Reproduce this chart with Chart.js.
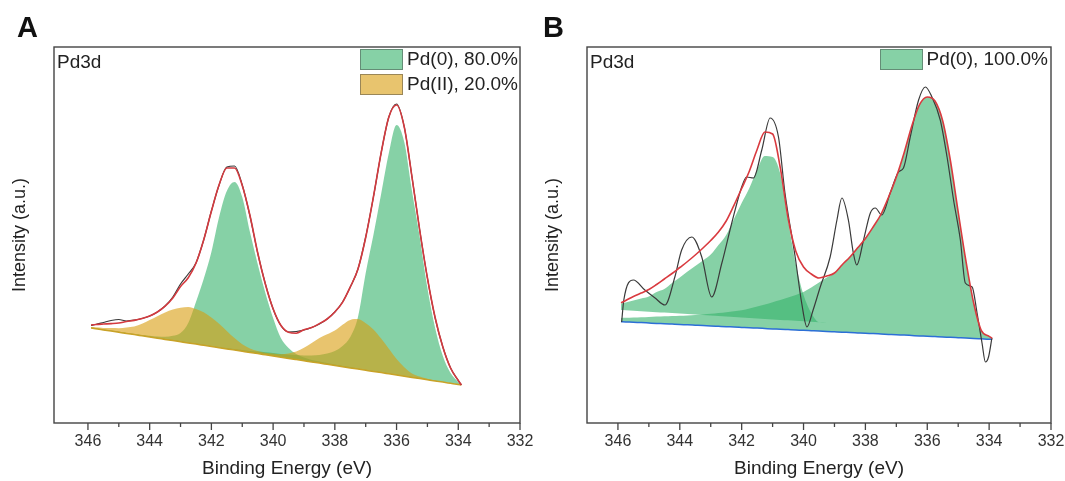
<!DOCTYPE html>
<html>
<head>
<meta charset="utf-8">
<script src="https://cdn.jsdelivr.net/npm/chart.js@4.4.1/dist/chart.umd.min.js"></script>
<style>
  html, body { margin: 0; padding: 0; background: #fff; }
  #wrap { position: relative; width: 1065px; height: 481px; overflow: hidden;
          font-family: "Liberation Sans", Arial, sans-serif; color: #222; }
  canvas { position: absolute; top: 0; }
  .tag { position: absolute; top: 13px; font-size: 29px; line-height: 1; font-weight: bold; color: #111; }
  .core { position: absolute; top: 52px; font-size: 19px; line-height: 1; }
  .legend { position: absolute; top: 48px; font-size: 19px; }
  .legend .row { display: flex; align-items: center; height: 22px; margin-bottom: 3px; }
  .legend .sw { width: 43px; height: 21px; border: 1px solid rgba(60,60,60,0.45); margin-right: 4px; box-sizing: border-box; }
  .legend .txt { line-height: 22px; white-space: nowrap; }
</style>
</head>
<body>
<div id="wrap">
  <canvas id="chartA" width="533" height="481" style="left:0"></canvas>
  <canvas id="chartB" width="532" height="481" style="left:533px"></canvas>
  <div class="tag" style="left:17px">A</div>
  <div class="tag" style="left:543px">B</div>
  <div class="core" style="left:57px">Pd3d</div>
  <div class="core" style="left:590px">Pd3d</div>
  <div class="legend" id="legendA" style="right:547px"></div>
  <div class="legend" id="legendB" style="right:17px"></div>
</div>
<script>
// binding energy grid (eV) for the fitted curves
const energy = [345.9, 345.75, 345.5, 345.25, 345, 344.75, 344.5, 344.25, 344, 343.75,
  343.5, 343.25, 343, 342.75, 342.5, 342.25, 342, 341.75, 341.5, 341.25,
  341, 340.75, 340.5, 340.25, 340, 339.75, 339.5, 339.25, 339, 338.75,
  338.5, 338.25, 338, 337.75, 337.5, 337.25, 337, 336.75, 336.5, 336.25,
  336, 335.75, 335.5, 335.25, 335, 334.75, 334.5, 334.25, 334, 333.9];

const tickValues = [346, 345, 344, 343, 342, 341, 340, 339, 338, 337, 336, 335, 334, 333, 332];

// ---- panel A ----
const rawA = [97.5, 98.5, 100.5, 102.5, 103.5, 102, 102.8, 104.5, 107, 111,
  117, 126, 139, 149, 160, 183, 212, 238, 256, 257,
  238, 207, 170, 139, 114, 97.5, 91, 91.5, 93, 95.5,
  99, 104, 111, 121, 136, 154, 186, 226, 270, 306,
  319, 296, 246, 193, 145, 105, 76, 55, 42.5, 38];
const envelopeA = [98, 98.5, 99, 99.4, 100, 101.5, 102.6, 104.5, 107, 111,
  116.8, 125, 136.5, 145.3, 159.7, 183, 211.7, 238.2, 255, 255,
  237.6, 207.5, 170.3, 138.8, 114.3, 97.8, 90.8, 89.8, 93.3, 95.4,
  99.4, 104, 111, 120.7, 136, 154, 185.5, 226, 270, 306,
  318, 296, 246, 193, 145, 105.5, 76, 55, 42.5, 38];
const baselineA = [95, 94.3, 93.1, 91.9, 90.7, 89.5, 88.4, 87.2, 86, 84.8,
  83.6, 82.4, 81.2, 80, 78.9, 77.7, 76.5, 75.3, 74.1, 72.9,
  71.7, 70.5, 69.4, 68.2, 67, 65.8, 64.6, 63.4, 62.2, 61,
  59.9, 58.7, 57.5, 56.3, 55.1, 53.9, 52.7, 51.5, 50.4, 49.2,
  48, 46.8, 45.6, 44.4, 43.2, 42, 40.9, 39.7, 38.5, 38];
const pd2A = [96, 95.8, 95.1, 94.9, 94.7, 95.5, 96.4, 99.2, 103, 106.8,
  110.6, 113.4, 115.2, 116, 113.9, 110.7, 105.5, 99.3, 92.1, 84.9,
  78.7, 74.5, 71.9, 70.2, 69.5, 68.8, 69.6, 71.4, 75.2, 80,
  84.9, 88.7, 92.5, 98.3, 103.1, 103.9, 99.7, 93.5, 84.4, 74.2,
  64, 55.8, 49.6, 46.4, 44.2, 42.5, 41.2, 39.9, 38.5, 38];
const pd0HighA = [95.2, 94.5, 93.4, 92.3, 91.2, 90.1, 89.1, 88.1, 87.2, 86.5,
  86.3, 87.2, 90, 100, 121, 144, 171, 206, 232, 241,
  226, 191, 159, 130, 105, 85, 75, 69, 65.5, 63,
  61.5, 60, 58.5, 57.2, 55.9, 54.6, 53.3, 52, 50.8, 49.6,
  48.4, 47.1, 45.9, 44.7, 43.4, 42.2, 41, 39.8, 38.6, 38];
const pd0LowA = [95.5, 94.8, 93.6, 92.4, 91.2, 90, 88.9, 87.7, 86.5, 85.3,
  84.1, 82.9, 81.7, 80.5, 79.4, 78.2, 77, 75.8, 74.9, 73.9,
  72.9, 72, 71.4, 70.7, 70, 69, 68.5, 68, 67.5, 67.5,
  68, 69.5, 72, 77, 86, 106, 150, 188, 229, 270,
  298, 281, 232, 186, 135, 95, 67, 50, 41, 38];
const legendA = ["Pd(0), 80.0%", "Pd(II), 20.0%"];

// ---- panel B ----
const rawEnergyB = [345.88, 345.81, 345.5, 345.13, 344.8, 344.48, 344.16, 343.94, 343.61, 343.29,
  342.97, 342.64, 342.32, 342.0, 341.84, 341.62, 341.35, 341.08, 340.81, 340.6,
  340.27, 340.06, 339.89, 339.69, 339.46, 339.14, 338.92, 338.76, 338.55, 338.39,
  338.28, 338.06, 337.84, 337.68, 337.47, 337.2, 336.93, 336.77, 336.55, 336.28,
  336.06, 335.85, 335.58, 335.36, 335.15, 334.93, 334.77, 334.55, 334.39, 334.23,
  334.12, 334.02, 333.91];
const rawB = [101, 123, 143, 133, 125, 118, 146, 173, 186, 166,
  126, 160, 200, 236, 246, 245, 273, 305, 286, 230,
  166, 120, 96, 113, 136, 166, 203, 225, 203, 170,
  158, 183, 210, 215, 208, 230, 251, 255, 286, 323,
  336, 326, 303, 266, 223, 183, 140, 136, 110, 80,
  61, 66, 85];
const envelopeB = [120.2, 122.5, 126.5, 130, 133.5, 138.5, 144, 149.5, 155.5, 161.5,
  168, 175, 182.5, 191, 202, 217.7, 234.5, 252, 273.5, 291,
  289, 255, 205, 171.8, 156, 149, 145, 147, 150, 158.3,
  166, 175.2, 184.5, 196, 208.5, 226, 246, 270, 297, 318.3,
  326, 322, 302, 262, 211, 162, 120, 92.3, 86.7, 84.7];
const baselineB = [101.3, 101.1, 100.7, 100.4, 100, 99.6, 99.3, 98.9, 98.5, 98.2,
  97.8, 97.4, 97.1, 96.7, 96.3, 96, 95.6, 95.2, 94.9, 94.5,
  94.1, 93.8, 93.4, 93, 92.7, 92.3, 91.9, 91.6, 91.2, 90.8,
  90.5, 90.1, 89.7, 89.4, 89, 88.6, 88.2, 87.9, 87.5, 87.1,
  86.8, 86.4, 86, 85.7, 85.3, 84.9, 84.6, 84.2, 83.8, 83.7];
const pd0HighB = [119.5, 120.5, 122.5, 124.5, 126.5, 131, 134, 140, 145.5, 151.5,
  157, 162.5, 168.5, 178, 188, 204, 220, 235, 253.5, 267,
  266, 249, 203, 159, 128, 110, 100.8, 100.3, 99.8, 99.3,
  98.8, 98.4, 97.9, 97.4, 96.9, 96.4, 96, 95.5, 95, 94.5,
  94, 93.6, 93.1, 92.6, 92.1, 91.6, 91.2, 90.7, 90.2, 90];
// lower edge of the 3d3/2 component fill
const pd0HighEdgeB = [113, 112.8, 112.3, 111.8, 111.3, 110.8, 110.4, 109.9, 109.4, 108.9,
  108.4, 107.9, 107.5, 107, 106.5, 106, 105.5, 105.1, 104.6, 104.1,
  103.6, 103.1, 102.7, 102.2, 101.7, 101.2, 100.8, 100.3, 99.8, 99.3,
  98.8, 98.4, 97.9, 97.4, 96.9, 96.4, 96, 95.5, 95, 94.5,
  94, 93.6, 93.1, 92.6, 92.1, 91.6, 91.2, 90.7, 90.2, 90];
const pd0LowB = [105, 105.2, 105.5, 105.8, 106.1, 106.4, 106.7, 107, 107.3, 107.6,
  107.9, 108.5, 109.2, 110, 110.8, 111.7, 112.8, 114.5, 116.5, 118.5,
  120.8, 123, 125.5, 128, 131, 135.5, 140.5, 145.5, 150, 158.3,
  166, 175.2, 184.5, 196, 208.5, 226, 246, 270, 297, 318.3,
  326, 322, 302, 262, 211, 162, 120, 92.3, 86.7, 84.7];
const legendB = ["Pd(0), 100.0%"];

const green = "rgba(53,178,107,0.6)";
const yellow = "rgba(217,157,13,0.6)";
const fontFamily = '"Liberation Sans", Arial, sans-serif';
Chart.defaults.font.family = fontFamily;

const pts = (xs, ys) => xs.map((x, i) => ({ x: x, y: ys[i] }));

const line = (data, color, width) => ({
  data: data, borderColor: color, borderWidth: width, fill: false, pointRadius: 0
});
const area = (data, color, target) => ({
  data: data, borderColor: "rgba(0,0,0,0)", borderWidth: 0, backgroundColor: color,
  fill: target, pointRadius: 0
});

// box around the plot and the bottom tick marks
const frame = {
  id: "frame",
  afterDraw(chart) {
    const { ctx, chartArea: a } = chart;
    const x = chart.scales.x;
    ctx.save();
    ctx.strokeStyle = "#444";
    ctx.lineWidth = 1.4;
    ctx.strokeRect(a.left, a.top, a.right - a.left, a.bottom - a.top);
    ctx.lineWidth = 1.3;
    tickValues.forEach((v) => {
      const px = x.getPixelForValue(v);
      ctx.beginPath();
      ctx.moveTo(px, a.bottom);
      ctx.lineTo(px, a.bottom + (v % 2 === 0 ? 7 : 4));
      ctx.stroke();
    });
    ctx.restore();
  },
};

function makeChart(id, xMax, padRight, datasets) {
  return new Chart(document.getElementById(id), {
    type: "line",
    data: { datasets: datasets },
    options: {
      responsive: false,
      animation: false,
      events: [],
      layout: { padding: { top: 47, right: padRight, left: 0, bottom: 0 } },
      elements: { line: { cubicInterpolationMode: "monotone" } },
      plugins: { legend: { display: false }, tooltip: { enabled: false } },
      scales: {
        x: {
          type: "linear",
          reverse: true,
          min: 332,
          max: xMax,
          afterBuildTicks: (s) => { s.ticks = tickValues.map((v) => ({ value: v })); },
          afterFit: (s) => { s.height = 58; s.paddingLeft = 0; s.paddingRight = 0; },
          grid: { drawOnChartArea: false, drawTicks: true, tickLength: 5, color: "rgba(0,0,0,0)" },
          border: { display: false },
          ticks: {
            padding: 4, color: "#333", autoSkip: false, maxRotation: 0,
            font: { size: 16 },
            callback: (v) => (v % 2 === 0 ? String(v) : ""),
          },
          title: {
            display: true, text: "Binding Energy (eV)", color: "#222",
            font: { size: 19, lineHeight: 1 }, padding: { top: 0, bottom: 3 },
          },
        },
        y: {
          min: 0,
          max: 376,
          afterFit: (s) => { s.width = 54; s.paddingTop = 0; s.paddingBottom = 0; },
          grid: { display: false },
          border: { display: false },
          ticks: { display: false },
          title: {
            display: true, text: "Intensity (a.u.)", color: "#222",
            font: { size: 18, lineHeight: 1 }, padding: { top: 11, bottom: 0 },
          },
        },
      },
    },
    plugins: [frame],
  });
}

makeChart("chartA", 347.1, 13, [
  line(pts(energy, envelopeA), "#d43a3f", 1.6),
  line(pts(energy, rawA), "#3a3a3a", 1.2),
  line(pts(energy, baselineA), "#c9a227", 1.5),
  area(pts(energy, pd2A), yellow, 2),
  area(pts(energy, pd0HighA), green, 2),
  area(pts(energy, pd0LowA), green, 2),
]);

makeChart("chartB", 347.0, 14, [
  line(pts(energy, envelopeB), "#d93a3f", 1.6),
  line(pts(rawEnergyB, rawB), "#3a3a3a", 1.2),
  line(pts(energy, baselineB), "#2c6fd6", 1.5),
  area(pts(energy, pd0HighB), green, 4),
  line(pts(energy, pd0HighEdgeB), "rgba(0,0,0,0)", 0),
  area(pts(energy, pd0LowB), green, 2),
]);

function buildLegend(id, labels, colors) {
  const box = document.getElementById(id);
  labels.forEach((t, i) => {
    const row = document.createElement("div");
    row.className = "row";
    const sw = document.createElement("div");
    sw.className = "sw";
    sw.style.background = colors[i];
    const txt = document.createElement("span");
    txt.className = "txt";
    txt.textContent = t;
    row.appendChild(sw);
    row.appendChild(txt);
    box.appendChild(row);
  });
}
buildLegend("legendA", legendA, [green, yellow]);
buildLegend("legendB", legendB, [green]);
</script>
</body>
</html>
